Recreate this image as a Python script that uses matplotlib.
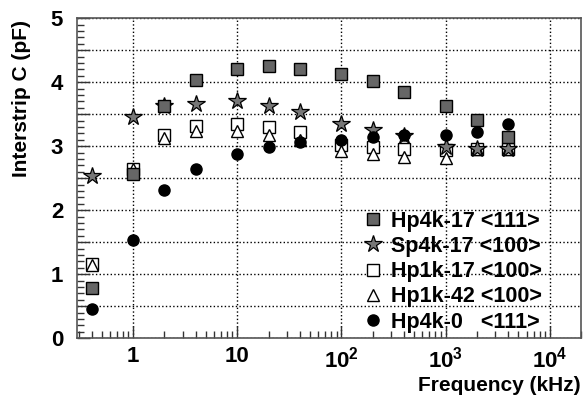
import numpy as np
import matplotlib
matplotlib.use('Agg')
import matplotlib.pyplot as plt
from matplotlib.ticker import MultipleLocator, FuncFormatter, LogLocator, NullFormatter

plt.rcParams['font.family'] = ['Liberation Sans', 'DejaVu Sans']
plt.rcParams['font.weight'] = 'bold'
plt.rcParams['mathtext.fontset'] = 'custom'
plt.rcParams['mathtext.bf'] = 'Liberation Sans:bold'
plt.rcParams['mathtext.rm'] = 'Liberation Sans:bold'

# frecuencias (kHz)
freq = [0.4, 1, 2, 4, 10, 20, 40, 100, 200, 400, 1000, 2000, 4000]

hp4k17 = [0.79, 2.56, 3.63, 4.03, 4.21, 4.25, 4.21, 4.13, 4.02, 3.84, 3.63, 3.41, 3.15]
sp4k17 = [2.54, 3.45, 3.63, 3.66, 3.70, 3.63, 3.53, 3.35, 3.25, 3.16, 2.99, 2.95, 2.95]
hp1k17 = [1.16, 2.65, 3.17, 3.32, 3.35, 3.30, 3.22, 3.02, 2.99, 2.95, 2.94, 2.96, 2.96]
hp1k42 = [1.15, 2.64, 3.12, 3.23, 3.23, 3.18, 3.10, 2.93, 2.88, 2.83, 2.81, 2.95, 2.95]
hp4k0 = [0.45, 1.54, 2.31, 2.64, 2.87, 2.98, 3.06, 3.10, 3.15, 3.17, 3.17, 3.22, 3.34]

labels = ['Hp4k-17 <111>', 'Sp4k-17 <100>', 'Hp1k-17 <100>', 'Hp1k-42 <100>', 'Hp4k-0   <111>']

fig = plt.figure(figsize=(5.84, 4.04), dpi=100)
ax = fig.add_axes([0.132, 0.163, 0.863, 0.792])

l3, = ax.plot(freq, hp1k17, 's', ms=8.5, mfc='white', mec='black', mew=1.0, ls='none')
l4, = ax.plot(freq, hp1k42, '^', ms=8, mfc='white', mec='black', mew=1.0, ls='none')
l2, = ax.plot(freq, sp4k17, '*', ms=13, mfc='#777777', mec='black', mew=0.9, ls='none')
l1, = ax.plot(freq, hp4k17, 's', ms=8.5, mfc='#666666', mec='black', mew=1.0, ls='none')
l5, = ax.plot(freq, hp4k0, 'o', ms=8, mfc='black', mec='black', ls='none')

ax.set_xscale('log')
ax.set_xlim(0.29, 2.0e4)
ax.set_ylim(0, 5)

ax.yaxis.set_major_locator(MultipleLocator(0.5))
ax.yaxis.set_minor_locator(MultipleLocator(0.1))
ax.yaxis.set_major_formatter(FuncFormatter(lambda v, p: '%d' % v if abs(v - round(v)) < 1e-6 else ''))

ax.xaxis.set_major_locator(LogLocator(base=10, numticks=10))
ax.xaxis.set_minor_locator(LogLocator(base=10, subs=np.arange(2, 10), numticks=20))
ax.xaxis.set_minor_formatter(NullFormatter())
ax.xaxis.set_major_formatter(FuncFormatter(
    lambda v, p: {1: '1', 10: '10'}.get(int(round(v)), r'$\mathbf{10^{%d}}$' % int(round(np.log10(v))))))

ax.tick_params(axis='both', which='both', direction='in', top=False, right=False,
               labelsize=16, color='#333333')
ax.tick_params(axis='both', which='major', length=9, width=1)
ax.tick_params(axis='both', which='minor', length=5, width=1)
ax.tick_params(axis='x', which='major', pad=6)
ax.tick_params(axis='y', which='major', pad=10)

ax.grid(True, which='major', ls=':', color='black', lw=1.0)
for s in ax.spines.values():
    s.set_color('#555555')
    s.set_linewidth(1.2)

ax.set_ylabel('Interstrip C (pF)', fontsize=15, fontweight='bold')
ax.yaxis.set_label_coords(-0.111, 0.75)
ax.yaxis.label.set_verticalalignment('center')
ax.set_xlabel('Frequency (kHz)', fontsize=15, fontweight='bold')
ax.xaxis.set_label_coords(1.0, -0.118)
ax.xaxis.label.set_horizontalalignment('right')

leg = ax.legend([l1, l2, l3, l4, l5], labels, loc='lower left', frameon=False,
                fontsize=15.5, handletextpad=0.2, labelspacing=0.2, borderaxespad=0.0,
                handlelength=1.2, bbox_to_anchor=(0.545, -0.01))

plt.savefig('out.png', dpi=100)
